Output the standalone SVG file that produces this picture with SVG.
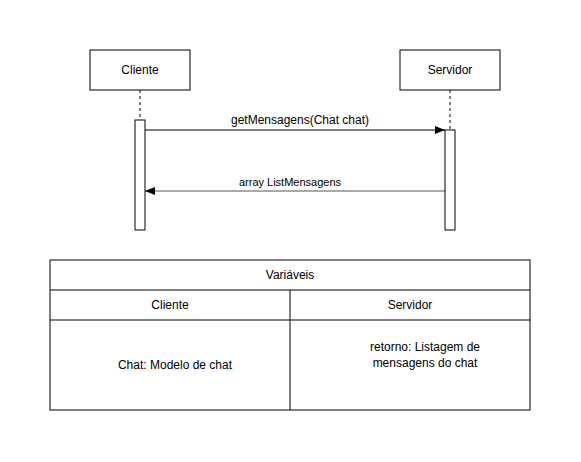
<svg xmlns="http://www.w3.org/2000/svg" width="581" height="462" viewBox="0 0 581 462">
<style>
.b{fill:#fff;stroke:#000;stroke-width:1}
.t{font-family:"Liberation Sans",Arial,sans-serif;font-size:12px;fill:#000;text-anchor:middle}
.s{font-size:11px}
.ll{stroke:#000;stroke-dasharray:3 3;fill:none}
</style>
<defs>
<marker id="ah" viewBox="0 0 10 10" refX="10" refY="5" markerWidth="10" markerHeight="10" markerUnits="userSpaceOnUse" orient="auto">
<path d="M0,1 L10,5 L0,9 Z" fill="#000"/>
</marker>
</defs>
<rect width="581" height="462" fill="#fff"/>
<g id="connectors">
<line class="ll" x1="140" y1="90" x2="140" y2="120"/>
<line class="ll" x1="450" y1="90" x2="450" y2="130"/>
<line x1="145" y1="130" x2="445" y2="130" stroke="#000" marker-end="url(#ah)"/>
<text class="t" x="300" y="124">getMensagens(Chat chat)</text>
<line x1="445" y1="191" x2="145" y2="191" stroke="#555" marker-end="url(#ah)"/>
<text class="t s" x="290" y="186">array ListMensagens</text>
</g>
<g id="cliente">
<rect class="b" x="90" y="50" width="100" height="40"/>
<text class="t" x="140" y="74">Cliente</text>
</g>
<g id="servidor">
<rect class="b" x="400" y="50" width="100" height="40"/>
<text class="t" x="450" y="74">Servidor</text>
</g>
<g id="cliente-activation">
<rect class="b" x="135" y="120" width="10" height="110"/>
</g>
<g id="servidor-activation">
<rect class="b" x="445" y="130" width="10" height="100"/>
</g>
<g id="table">
<rect class="b" x="50" y="260" width="480" height="150"/>
<line x1="50" y1="290" x2="530" y2="290" stroke="#000"/>
<line x1="50" y1="320" x2="530" y2="320" stroke="#000"/>
<line x1="290" y1="290" x2="290" y2="410" stroke="#000"/>
<text class="t" x="290" y="279">Variáveis</text>
<text class="t" x="170" y="309">Cliente</text>
<text class="t" x="410" y="309">Servidor</text>
<text class="t" x="175" y="369">Chat: Modelo de chat</text>
<text class="t" x="425" y="351">retorno: Listagem de</text>
<text class="t" x="425" y="367">mensagens do chat</text>
</g>
</svg>
